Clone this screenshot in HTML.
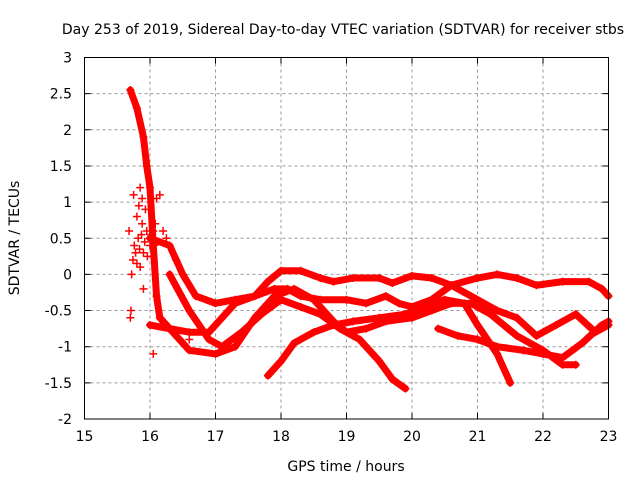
<!DOCTYPE html>
<html><head><meta charset="utf-8"><style>
body{margin:0;background:#fff}
svg{display:block;font-family:"DejaVu Sans","Liberation Sans",sans-serif}
</style></head><body>
<svg id="chart" width="640" height="480" viewBox="0 0 640 480">
<rect width="640" height="480" fill="#fff"/>
<text x="343" y="34" font-size="14" text-anchor="middle">Day 253 of 2019, Sidereal Day-to-day VTEC variation (SDTVAR) for receiver stbs</text>
<g id="grid"></g>
<g id="series"></g>
<rect x="84.5" y="57.5" width="524" height="361.5" fill="none" stroke="#000" stroke-width="1"/>
<g id="ticks"></g>
<text x="346" y="471" font-size="14" text-anchor="middle">GPS time / hours</text>
<text transform="translate(19,238) rotate(-90)" font-size="14" text-anchor="middle">SDTVAR / TECUs</text>
</svg>
<script>
const xTicks=[15,16,17,18,19,20,21,22,23];
const yTicks=[-2,-1.5,-1,-0.5,0,0.5,1,1.5,2,2.5,3];
const yTickLabels=["-2","-1.5","-1","-0.5","0","0.5","1","1.5","2","2.5","3"];
const s1=[[15.7,2.55],[15.8,2.3],[15.9,1.9],[15.95,1.5],[16.0,1.2],[16.05,0.4],[16.1,-0.3],[16.15,-0.6],[16.3,-0.75],[16.6,-0.8],[16.9,-0.8],[17.1,-0.6],[17.3,-0.4],[17.6,-0.3],[17.9,-0.2],[18.1,-0.2],[18.3,-0.3],[18.6,-0.35],[19.0,-0.35],[19.3,-0.4],[19.6,-0.3],[19.8,-0.4],[20.0,-0.45],[20.3,-0.35],[20.6,-0.15],[20.9,-0.3],[21.3,-0.5],[21.6,-0.6],[21.9,-0.85],[22.2,-0.7],[22.5,-0.55],[22.8,-0.8],[23.0,-0.7]];
const s2=[[16.0,0.5],[16.3,0.4],[16.5,0.0],[16.7,-0.3],[17.0,-0.4],[17.3,-0.35],[17.6,-0.3],[17.8,-0.1],[18.0,0.05],[18.3,0.05],[18.6,-0.05],[18.8,-0.1],[19.1,-0.05],[19.5,-0.05],[19.7,-0.12],[20.0,-0.02],[20.3,-0.05],[20.6,-0.15],[21.0,-0.05],[21.3,0.0],[21.6,-0.05],[21.9,-0.15],[22.3,-0.1],[22.7,-0.1],[22.9,-0.2],[23.0,-0.3]];
const s3=[[16.3,0.0],[16.6,-0.5],[16.9,-0.9],[17.1,-1.0],[17.4,-0.8],[17.7,-0.55],[18.0,-0.35],[18.3,-0.45],[18.6,-0.55],[18.9,-0.75],[19.2,-0.9],[19.5,-1.2],[19.7,-1.45],[19.9,-1.58]];
const s4=[[16.0,-0.7],[16.3,-0.75],[16.6,-1.05],[17.0,-1.1],[17.3,-1.0],[17.6,-0.6],[17.9,-0.3],[18.2,-0.2],[18.5,-0.35],[18.8,-0.65],[19.0,-0.8],[19.3,-0.75],[19.6,-0.65],[20.0,-0.6],[20.3,-0.5],[20.6,-0.4],[20.9,-0.4],[21.2,-0.55],[21.6,-0.85],[22.0,-1.05],[22.3,-1.25],[22.5,-1.25]];
const s5=[[17.8,-1.4],[18.0,-1.2],[18.2,-0.95],[18.5,-0.8],[18.8,-0.7],[19.1,-0.65],[19.5,-0.6],[19.9,-0.55],[20.2,-0.45],[20.5,-0.35],[20.8,-0.4],[21.0,-0.7],[21.3,-1.1],[21.5,-1.5]];
const s6=[[20.4,-0.75],[20.7,-0.85],[21.0,-0.9],[21.3,-1.0],[21.7,-1.05],[22.0,-1.1],[22.3,-1.15],[22.6,-0.95],[22.9,-0.7],[23.0,-0.65]];
const s0=[[15.68,0.6],[15.7,-0.6],[15.71,-0.5],[15.72,0.0],[15.74,0.2],[15.75,1.1],[15.78,0.3],[15.8,0.8],[15.82,0.5],[15.85,1.2],[15.88,0.7],[15.9,0.3],[15.93,0.9],[15.95,0.6],[16.0,0.4],[16.05,0.6],[16.1,1.05],[16.15,1.1],[16.2,0.6],[16.25,0.5],[15.85,0.1],[15.9,-0.2],[16.05,-1.1],[16.4,0.2],[16.6,-0.9],[15.76,0.4],[15.8,0.15],[15.84,0.35],[15.87,0.55],[15.92,0.45],[15.96,0.25],[16.02,0.55],[16.08,0.7],[16.12,0.45],[15.88,1.05],[15.83,0.95]];
const lineSeries=[s1,s2,s3,s4,s5,s6];
const X=h=>84.5+(h-15)*65.5, Y=v=>57.5+(3-v)*72.3;
const NS="http://www.w3.org/2000/svg";
const grid=document.getElementById('grid'),ticks=document.getElementById('ticks'),ser=document.getElementById('series');
function mk(tag,attrs,parent){const e=document.createElementNS(NS,tag);for(const k in attrs)e.setAttribute(k,attrs[k]);parent.appendChild(e);return e;}
xTicks.forEach(t=>{const x=X(t);
 if(t>15&&t<23){const g=mk('line',{x1:x,x2:x,y1:57.5,y2:419,stroke:'#999','stroke-dasharray':'3,3'},grid);
 }
 const tk=mk('path',{d:`M${x},419v-6M${x},57.5v6`,stroke:'#000'},ticks);
 
 const l=mk('text',{x:x,y:441,'font-size':'14','text-anchor':'middle'},ticks);l.textContent=t;
 });
yTicks.forEach((t,i)=>{const y=Y(t);
 if(t>-2&&t<3){const g=mk('line',{x1:84.5,x2:608.5,y1:y,y2:y,stroke:'#999','stroke-dasharray':'3,3'},grid);
 }
 const tk=mk('path',{d:`M84.5,${y}h6M608.5,${y}h-6`,stroke:'#000'},ticks);
 
 const l=mk('text',{x:72,y:y+5,'font-size':'14','text-anchor':'end'},ticks);l.textContent=yTickLabels[i];
 });
function plus(h,v){const x=X(h),y=Y(v);
 const p=mk('path',{d:`M${x-4},${y}h8M${x},${y-4}v8`,stroke:'#f00','stroke-width':'1.5',fill:'none'},ser);
 }
lineSeries.forEach((s,i)=>{
 const pl=mk('polyline',{points:s.map(p=>X(p[0])+','+Y(p[1])).join(' '),stroke:'#f00','stroke-width':'7',fill:'none','stroke-linejoin':'round','stroke-linecap':'round'},ser);
 
 s.forEach(p=>plus(p[0],p[1]));});
s0.forEach(p=>plus(p[0],p[1]));
</script>
</body></html>
